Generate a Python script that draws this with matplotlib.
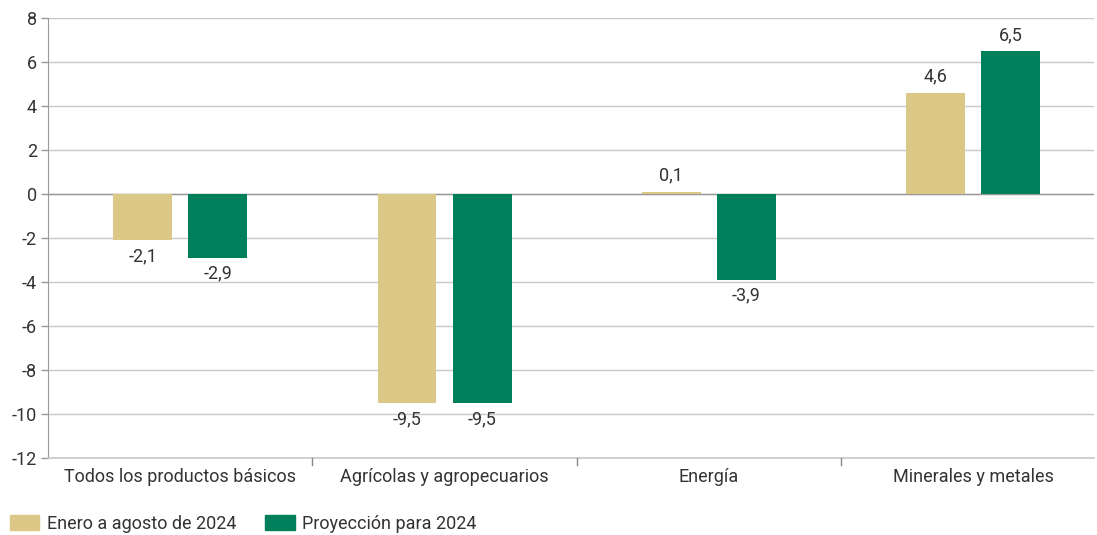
import numpy as np
import matplotlib.pyplot as plt
from matplotlib.patches import Patch

# datos
categorias = ["Todos los productos básicos", "Agrícolas y agropecuarios", "Energía", "Minerales y metales"]
enero_agosto = [-2.1, -9.5, 0.1, 4.6]
proyeccion = [-2.9, -9.5, -3.9, 6.5]
series_nombres = ["Enero a agosto de 2024", "Proyección para 2024"]
yticks = list(range(-12, 9, 2))

plt.rcParams['font.family'] = ['Roboto', 'DejaVu Sans']

col_tan = "#dbc887"
col_verde = "#00805a"
col_texto = "#333333"
fs = 13

fig = plt.figure(figsize=(10.97, 5.35), dpi=100)
ax = fig.add_axes([48/1097, 1-458/535, (1094-48)/1097, 440/535])

x = np.arange(len(categorias))
w = 0.223
off = 0.142
b1 = ax.bar(x - off, enero_agosto, w, color=col_tan, zorder=3)
b2 = ax.bar(x + off, proyeccion, w, color=col_verde, zorder=3)

# etiquetas de valores
for bars, vals in [(b1, enero_agosto), (b2, proyeccion)]:
    for r, v in zip(bars, vals):
        txt = ("%.1f" % v).replace(".", ",")
        cx = r.get_x() + r.get_width()/2
        if v >= 0:
            ax.annotate(txt, (cx, v), xytext=(0, 5), textcoords="offset points",
                        ha="center", va="bottom", fontsize=fs, color=col_texto)
        else:
            ax.annotate(txt, (cx, v), xytext=(0, -5), textcoords="offset points",
                        ha="center", va="top", fontsize=fs, color=col_texto)

# ejes
ax.set_ylim(-12, 8)
ax.set_yticks(yticks)
ax.set_yticklabels([str(t) for t in yticks], fontsize=fs, color=col_texto)
ax.set_xlim(-0.5, (1094-47.5)/264.5 - 0.5)
ax.set_xticks(x)
ax.set_xticklabels(categorias, fontsize=fs, color=col_texto)
ax.tick_params(axis="x", length=0, pad=7)
ax.tick_params(axis="y", length=5, width=1, color="#999999", pad=3)

# marcas entre categorias
for b in [0.5, 1.5, 2.5]:
    ax.plot([b, b], [-12, -12.3], color="#888888", lw=1, clip_on=False, zorder=4)

ax.grid(axis="y", color="#c8c8c8", lw=1, zorder=0)
ax.axhline(0, color="#999999", lw=1, zorder=2)
for s in ["top", "right"]:
    ax.spines[s].set_visible(False)
ax.spines["left"].set_color("#999999")
ax.spines["bottom"].set_color("#c8c8c8")
ax.spines["bottom"].set_linewidth(1.2)

handles = [Patch(color=col_tan, label=series_nombres[0]),
           Patch(color=col_verde, label=series_nombres[1])]
fig.legend(handles=handles, loc="lower left", bbox_to_anchor=(-0.006, -0.027), ncol=2,
           frameon=False, fontsize=fs, handlelength=1.65, handleheight=0.9,
           columnspacing=1.6, handletextpad=0.4, labelcolor=col_texto)

fig.savefig("out.png", dpi=100)
